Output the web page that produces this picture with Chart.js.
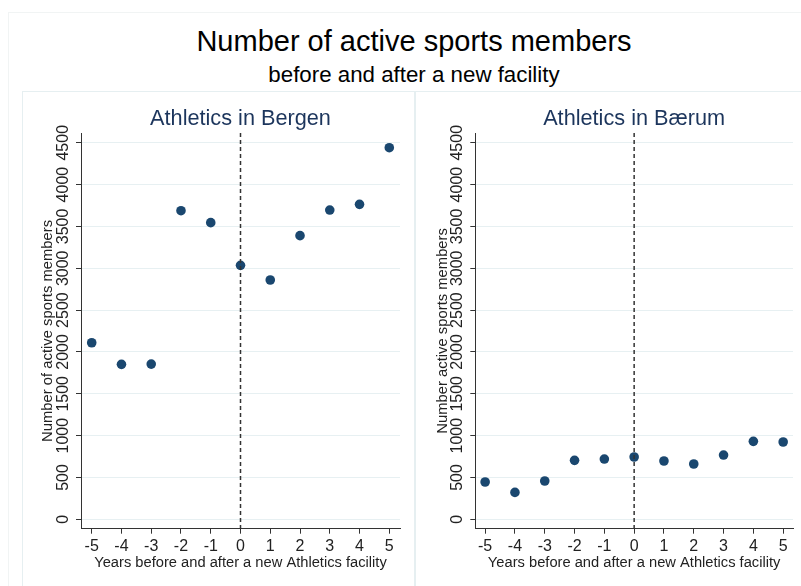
<!DOCTYPE html>
<html>
<head>
<meta charset="utf-8">
<script src="https://cdn.jsdelivr.net/npm/chart.js@4"></script>
<style>
  body { margin: 0; background: #fff; font-family: "Liberation Sans", Arial, sans-serif; }
  #page { position: relative; width: 801px; height: 586px; overflow: hidden; }
  .frame { position: absolute; left: 8px; top: 12px; width: 820px; height: 600px; border: 1px solid #f1f4f4; }
  .panel { position: absolute; top: 91px; height: 520px; border: 1px solid #e6eff1; }
  .title { position: absolute; left: 0; width: 828px; text-align: center; color: #000; white-space: nowrap; }
  canvas { position: absolute; }
</style>
</head>
<body>
<div id="page">
  <div class="frame"></div>
  <div class="panel" style="left:22px;width:391px;"></div>
  <div class="panel" style="left:415px;width:420px;"></div>
  <div class="title" style="top:27px;font-size:29px;line-height:29px;">Number of active sports members</div>
  <div class="title" style="top:64px;font-size:22.3px;line-height:22px;">before and after a new facility</div>
  <canvas id="bergen" width="392" height="494" style="left:22px;top:92px;"></canvas>
  <canvas id="baerum" width="386" height="494" style="left:415px;top:92px;"></canvas>
</div>
<script>
// years relative to the opening of the facility
var years = [-5, -4, -3, -2, -1, 0, 1, 2, 3, 4, 5];
var bergenMembers = [2110, 1852, 1855, 3688, 3545, 3035, 2860, 3390, 3696, 3764, 4441];
var baerumMembers = [446, 322, 458, 705, 720, 745, 697, 661, 768, 932, 924];
var yTicks = [0, 500, 1000, 1500, 2000, 2500, 3000, 3500, 4000, 4500];
var xTicks = [-5, -4, -3, -2, -1, 0, 1, 2, 3, 4, 5];
var openingYear = 0;

var navy = "#1a476f";
var axisColor = "#333";
var gridColor = "#e7f0f2";

// dashed vertical line at the opening year
var openingLine = {
    id: "openingLine",
    afterDatasetsDraw(chart) {
        var ctx = chart.ctx;
        var x = chart.scales.x.getPixelForValue(openingYear);
        ctx.save();
        ctx.strokeStyle = axisColor;
        ctx.lineWidth = 1.5;
        ctx.setLineDash([4, 3]);
        ctx.beginPath();
        ctx.moveTo(x, chart.chartArea.top);
        ctx.lineTo(x, chart.chartArea.bottom);
        ctx.stroke();
        ctx.restore();
    },
};

function makeChart(id, title, yTitle, values, opts) {
    var ctx = document.getElementById(id).getContext("2d");
    return new Chart(ctx, {
        type: "scatter",
        data: {
            datasets: [
                {
                    data: years.map((y, i) => ({ x: y, y: values[i] })),
                    backgroundColor: navy,
                    borderWidth: 0,
                    pointRadius: 4.8,
                },
            ],
        },
        options: {
            responsive: false,
            animation: false,
            layout: { padding: { top: 0, right: opts.padRight, bottom: 0, left: 0 } },
            plugins: {
                legend: { display: false },
                tooltip: { enabled: false },
                title: {
                    display: true,
                    fullSize: false,
                    text: title,
                    color: "#1c355c",
                    font: { family: "Liberation Sans", size: 21.7, weight: "normal", lineHeight: 1.2 },
                    padding: { top: 14, bottom: 1 },
                },
            },
            scales: {
                x: {
                    type: "linear",
                    min: -opts.xPad,
                    max: opts.xPad,
                    afterBuildTicks: (s) => { s.ticks = xTicks.map((v) => ({ value: v })); },
                    afterFit: (s) => { s.height = 57.3; },
                    border: { display: true, color: axisColor, width: 1 },
                    grid: { drawOnChartArea: false, tickLength: 5, tickColor: axisColor },
                    ticks: {
                        color: "#222",
                        padding: 3.4,
                        maxRotation: 0,
                        font: { family: "Liberation Sans", size: 16 },
                        callback: (v) => String(v),
                    },
                    title: {
                        display: true,
                        text: "Years before and after a new Athletics facility",
                        color: "#222",
                        font: { family: "Liberation Sans", size: 14.7, lineHeight: 1.2 },
                        padding: { top: 0, bottom: 14 },
                    },
                },
                y: {
                    min: -112,
                    max: 4616,
                    afterBuildTicks: (s) => { s.ticks = yTicks.map((v) => ({ value: v })); },
                    afterFit: (s) => { s.width = opts.yWidth; },
                    border: { display: true, color: axisColor, width: 1 },
                    grid: { color: gridColor, tickLength: 5, tickColor: axisColor },
                    ticks: {
                        color: "#222",
                        padding: -5.3,
                        minRotation: 90,
                        maxRotation: 90,
                        crossAlign: "center",
                        font: { family: "Liberation Sans", size: 16 },
                        callback: (v) => String(v),
                    },
                    title: {
                        display: true,
                        text: yTitle,
                        color: "#222",
                        font: { family: "Liberation Sans", size: 14.8, lineHeight: 1.2 },
                        padding: { top: opts.yTitlePad, bottom: 0 },
                    },
                },
            },
        },
        plugins: [openingLine],
    });
}

makeChart("bergen", "Athletics in Bergen", "Number of active sports members", bergenMembers,
    { padRight: 14, xPad: 5.36, yWidth: 59, yTitlePad: 17 });
makeChart("baerum", "Athletics in Bærum", "Number active sports members", baerumMembers,
    { padRight: 8, xPad: 5.33, yWidth: 60.3, yTitlePad: 19 });
</script>
</body>
</html>
